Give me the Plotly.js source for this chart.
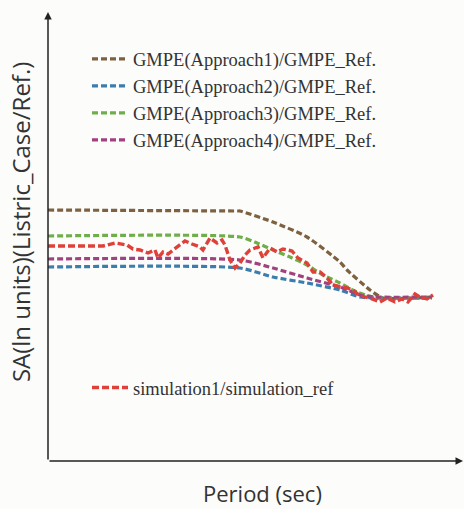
<!DOCTYPE html>
<html>
<head>
<meta charset="utf-8">
<script src="https://cdn.plot.ly/plotly-3.0.1.min.js"></script>
<style>html,body{margin:0;padding:0;background:#fcfcfa;}#chart{width:464px;height:509px;}</style>
</head>
<body>
<div id="chart"></div>
<script>
// Period (arbitrary units) and SA ratios (arbitrary units)
const gmpe1X = [0, 190, 192, 225, 259, 292, 299, 322, 335, 384];
const gmpe1Y = [251, 250, 250, 239, 224, 199, 191, 171, 163, 164];
const gmpe2X = [0, 192, 225, 259, 292, 312, 327, 384];
const gmpe2Y = [194, 193, 184, 178, 171, 164, 163, 163];
const gmpe3X = [0, 192, 209, 225, 242, 259, 275, 292, 309, 325, 384];
const gmpe3Y = [225, 224, 218, 211, 204, 196, 186, 178, 169, 164, 163];
const gmpe4X = [0, 192, 225, 259, 292, 312, 327, 384];
const gmpe4Y = [202, 201, 193, 183, 174, 166, 164, 164];
const simX = [0,55,67,79,85,92,100,107,110,115,120,129,137,144,152,155,162,169,174,177,182,187,192,197,202,210,215,222,229,235,244,250,259,265,272,279,285,292,299,305,312,322,332,339,347,354,360,367,372,379,385];
const simY = [215,215,218,216,212,211,208,211,203,209,207,214,220,217,214,211,223,218,221,216,201,193,198,206,211,214,203,213,209,212,210,203,198,189,189,183,176,174,173,171,165,163,159,163,159,162,159,167,164,162,166];
const names = ['GMPE(Approach1)/GMPE_Ref.','GMPE(Approach2)/GMPE_Ref.','GMPE(Approach3)/GMPE_Ref.','GMPE(Approach4)/GMPE_Ref.','simulation1/simulation_ref'];
const colors = ['#7d6140','#3b7dae','#6fae4a','#a2417f','#e0403a'];
const xTitle = 'Period (sec)';
const yTitle = 'SA(ln units)(Listric_Case/Ref.)';

const gx = [gmpe1X,gmpe2X,gmpe3X,gmpe4X];
const gy = [gmpe1Y,gmpe2Y,gmpe3Y,gmpe4Y];
const traces = [];
for (let i=0;i<4;i++){
  traces.push({x:gx[i], y:gy[i], name:names[i], mode:'lines', type:'scatter',
    line:{color:colors[i], width:3.2, dash:'6px,3px', shape:'spline', smoothing:0.6}, legend:'legend'});
}
traces.push({x:simX, y:simY, name:names[4], mode:'lines', type:'scatter',
  line:{color:colors[4], width:3.4, dash:'7px,3px'}, legend:'legend2'});

const axisColor = '#222';
const layout = {
  width:464, height:509,
  margin:{l:48, r:1, t:12, b:48, pad:0},
  paper_bgcolor:'#fcfcfa', plot_bgcolor:'#fcfcfa',
  showlegend:true,
  xaxis:{range:[0,415], showgrid:false, zeroline:false, showticklabels:false, ticks:'', showline:false},
  yaxis:{range:[0,449], showgrid:false, zeroline:false, showticklabels:false, ticks:'', showline:false},
  legend:{x:0.094, y:0.937, xanchor:'left', yanchor:'top', bgcolor:'rgba(0,0,0,0)',
    font:{family:'Liberation Serif', size:18.5, color:'#333'}, itemwidth:36, tracegroupgap:0},
  legend2:{x:0.094, y:0.205, xanchor:'left', yanchor:'top', bgcolor:'rgba(0,0,0,0)',
    font:{family:'Liberation Serif', size:18.5, color:'#333'}, itemwidth:36},
  annotations:[
    {xref:'paper', yref:'paper', x:0, y:1, ax:0, ay:449, showarrow:true,
     arrowhead:2, arrowsize:1, arrowwidth:1.5, arrowcolor:axisColor, text:''},
    {xref:'paper', yref:'paper', x:1, y:0, ax:-415, ay:0, showarrow:true,
     arrowhead:2, arrowsize:1, arrowwidth:1.5, arrowcolor:axisColor, text:''},
    {xref:'paper', yref:'paper', x:0.516, y:-0.0713, xanchor:'center', yanchor:'middle', showarrow:false,
     text:xTitle, font:{family:'Open Sans', size:22, color:'#333'}},
    {xref:'paper', yref:'paper', x:-0.0675, y:0.532, xanchor:'center', yanchor:'middle', showarrow:false,
     textangle:-90, text:yTitle, font:{family:'Open Sans', size:24, color:'#333'}}
  ]
};
Plotly.newPlot('chart', traces, layout, {displayModeBar:false, staticPlot:true});
</script>
</body>
</html>
